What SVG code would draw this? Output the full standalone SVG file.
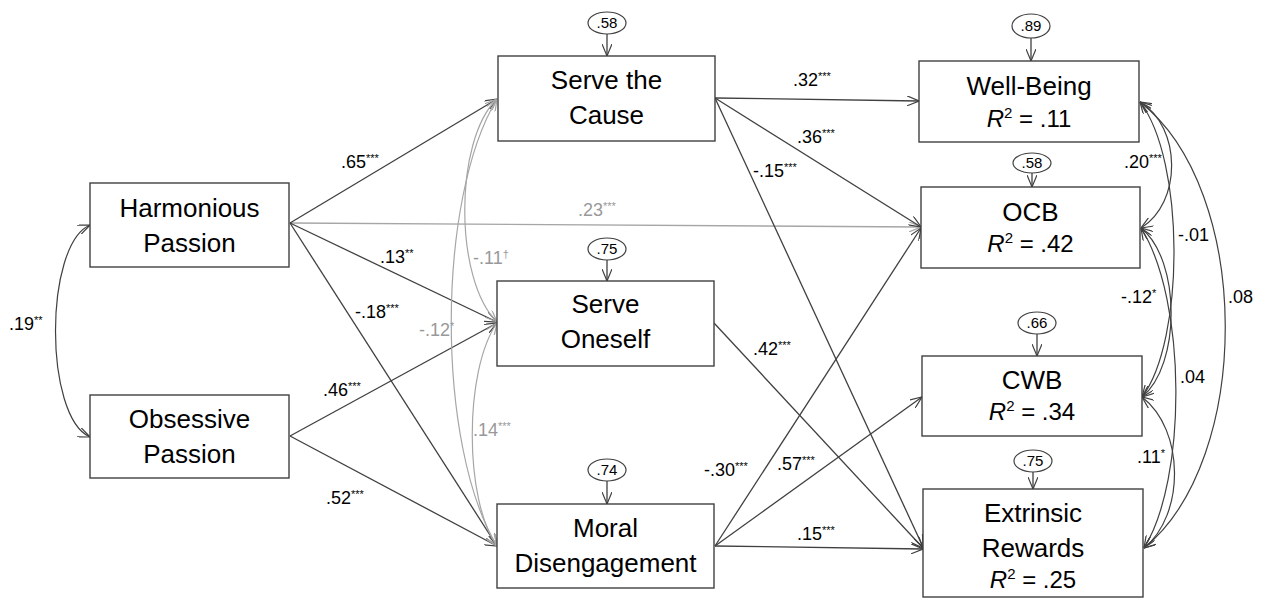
<svg xmlns="http://www.w3.org/2000/svg" width="1265" height="609" viewBox="0 0 1265 609">
<style>
.box{fill:#fff;stroke:#404040;stroke-width:1.4}
.nt{font-family:"Liberation Sans",Arial,sans-serif;font-size:26px;fill:#000;text-anchor:middle}
.r2{font-family:"Liberation Sans",Arial,sans-serif;font-size:24px;fill:#000;text-anchor:middle}
.err{fill:#fff;stroke:#404040;stroke-width:1.2}
.et{font-family:"Liberation Sans",Arial,sans-serif;font-size:15px;fill:#000;text-anchor:middle}
.dk{fill:none;stroke:#404040;stroke-width:1.3;marker-end:url(#ad)}
.gy{fill:none;stroke:#a6a6a6;stroke-width:1.3;marker-end:url(#ag)}
.dkc{fill:none;stroke:#404040;stroke-width:1.2;marker-start:url(#ad);marker-end:url(#ad)}
.gyc{fill:none;stroke:#a6a6a6;stroke-width:1.2;marker-start:url(#ag);marker-end:url(#ag)}
.lb{font-family:"Liberation Sans",Arial,sans-serif;font-size:18px;fill:#000}
.lg{font-family:"Liberation Sans",Arial,sans-serif;font-size:18px;fill:#999}
.sp{font-size:11px}
</style>
<defs>
<marker id="ad" viewBox="0 0 12 10" refX="12" refY="5" markerWidth="12" markerHeight="10" markerUnits="userSpaceOnUse" orient="auto-start-reverse"><path d="M0,0 L12,5 L0,10" fill="none" stroke="#404040" stroke-width="1.2"/></marker>
<marker id="ag" viewBox="0 0 12 10" refX="12" refY="5" markerWidth="12" markerHeight="10" markerUnits="userSpaceOnUse" orient="auto-start-reverse"><path d="M0,0 L12,5 L0,10" fill="none" stroke="#a6a6a6" stroke-width="1.2"/></marker>
</defs>

<g id="connectors">
<path class="gy" d="M290,223 L921,227"/>
<path class="dk" d="M290,223 L497,99"/>
<path class="dk" d="M290,223 L497,322"/>
<path class="dk" d="M290,223 L497,546"/>
<path class="dk" d="M290,436 L497,323"/>
<path class="dk" d="M290,436 L497,546"/>
<path class="dk" d="M715,98 L919,101"/>
<path class="dk" d="M715,98 L921,227"/>
<path class="dk" d="M715,98 L923,547"/>
<path class="dk" d="M714,323 L923,548"/>
<path class="dk" d="M715,546 L921,228"/>
<path class="dk" d="M715,546 L922,397"/>
<path class="dk" d="M715,546 L923,549"/>
<path class="dkc" d="M90,225 C44,245 44,417 90,437"/>
<path class="gyc" d="M497,99 C454,140 454,280 497,322"/>
<path class="gyc" d="M497,323 C464,370 464,500 497,546"/>
<path class="gyc" d="M497,99 C436,200 436,445 497,546"/>
<path class="dkc" d="M1140,102 C1182,127 1182,203 1141,228"/>
<path class="dkc" d="M1140,102 C1185,160 1185,340 1142,397"/>
<path class="dkc" d="M1140,102 C1253,190 1253,460 1144,548"/>
<path class="dkc" d="M1141,228 C1181,260 1181,365 1142,397"/>
<path class="dkc" d="M1141,228 C1187,300 1187,480 1144,548"/>
<path class="dkc" d="M1142,397 C1185,430 1185,515 1144,548"/>
<path class="dk" d="M607,34 L607,56"/>
<path class="dk" d="M607,260 L607,281"/>
<path class="dk" d="M607,481 L607,504"/>
<path class="dk" d="M1031,38 L1031,61"/>
<path class="dk" d="M1032,173 L1032,187"/>
<path class="dk" d="M1037,334 L1037,356"/>
<path class="dk" d="M1033,472 L1033,489"/>
</g>

<g id="labels">
<text class="lb" x="9" y="330">.19<tspan class="sp" dy="-6">**</tspan></text>
<text class="lb" x="341" y="168">.65<tspan class="sp" dy="-6">***</tspan></text>
<text class="lb" x="380" y="263">.13<tspan class="sp" dy="-6">**</tspan></text>
<text class="lb" x="355" y="318">-.18<tspan class="sp" dy="-6">***</tspan></text>
<text class="lb" x="323" y="396">.46<tspan class="sp" dy="-6">***</tspan></text>
<text class="lb" x="326" y="504">.52<tspan class="sp" dy="-6">***</tspan></text>
<text class="lg" x="578" y="216">.23<tspan class="sp" dy="-6">***</tspan></text>
<text class="lg" x="473" y="264">-.11<tspan class="sp" dy="-6">†</tspan></text>
<text class="lg" x="419" y="336">-.12<tspan class="sp" dy="-6">*</tspan></text>
<text class="lg" x="473" y="436">.14<tspan class="sp" dy="-6">***</tspan></text>
<text class="lb" x="793" y="86">.32<tspan class="sp" dy="-6">***</tspan></text>
<text class="lb" x="797" y="143">.36<tspan class="sp" dy="-6">***</tspan></text>
<text class="lb" x="753" y="177">-.15<tspan class="sp" dy="-6">***</tspan></text>
<text class="lb" x="753" y="355">.42<tspan class="sp" dy="-6">***</tspan></text>
<text class="lb" x="704" y="476">-.30<tspan class="sp" dy="-6">***</tspan></text>
<text class="lb" x="777" y="470">.57<tspan class="sp" dy="-6">***</tspan></text>
<text class="lb" x="797" y="540">.15<tspan class="sp" dy="-6">***</tspan></text>
<text class="lb" x="1124" y="168">.20<tspan class="sp" dy="-6">***</tspan></text>
<text class="lb" x="1178" y="241">-.01</text>
<text class="lb" x="1228" y="303">.08</text>
<text class="lb" x="1121" y="303">-.12<tspan class="sp" dy="-6">*</tspan></text>
<text class="lb" x="1180" y="383">.04</text>
<text class="lb" x="1137" y="463">.11<tspan class="sp" dy="-6">*</tspan></text>
</g>

<g id="hp"><rect class="box" x="90" y="183" width="199" height="84"/><text class="nt" x="189.5" y="217">Harmonious</text><text class="nt" x="189.5" y="252">Passion</text></g>
<g id="op"><rect class="box" x="90" y="395" width="199" height="83"/><text class="nt" x="189.5" y="428">Obsessive</text><text class="nt" x="189.5" y="463">Passion</text></g>
<g id="stc"><rect class="box" x="498" y="56" width="217" height="85"/><text class="nt" x="606.5" y="89">Serve the</text><text class="nt" x="606.5" y="124">Cause</text></g>
<g id="stc-e"><ellipse class="err" cx="607" cy="23" rx="19" ry="11"/><text class="et" x="607" y="28">.58</text></g>
<g id="so"><rect class="box" x="497" y="281" width="217" height="85"/><text class="nt" x="605.5" y="313">Serve</text><text class="nt" x="605.5" y="348">Oneself</text></g>
<g id="so-e"><ellipse class="err" cx="607" cy="249" rx="19" ry="11"/><text class="et" x="607" y="254">.75</text></g>
<g id="md"><rect class="box" x="497" y="504" width="217" height="84"/><text class="nt" x="605.5" y="537">Moral</text><text class="nt" x="605.5" y="572">Disengagement</text></g>
<g id="md-e"><ellipse class="err" cx="607" cy="470" rx="19" ry="11"/><text class="et" x="607" y="475">.74</text></g>
<g id="wb"><rect class="box" x="919" y="61" width="220" height="81"/><text class="nt" x="1029" y="95">Well-Being</text><text class="r2" x="1029" y="127"><tspan font-style="italic">R</tspan><tspan font-size="15" dy="-9">2</tspan><tspan dy="9"> = .11</tspan></text></g>
<g id="wb-e"><ellipse class="err" cx="1031" cy="26" rx="19" ry="12"/><text class="et" x="1031" y="31">.89</text></g>
<g id="ocb"><rect class="box" x="921" y="187" width="219" height="81"/><text class="nt" x="1030.5" y="221">OCB</text><text class="r2" x="1030.5" y="252"><tspan font-style="italic">R</tspan><tspan font-size="15" dy="-9">2</tspan><tspan dy="9"> = .42</tspan></text></g>
<g id="ocb-e"><ellipse class="err" cx="1032" cy="163" rx="19" ry="10"/><text class="et" x="1032" y="168">.58</text></g>
<g id="cwb"><rect class="box" x="922" y="356" width="220" height="80"/><text class="nt" x="1032" y="389">CWB</text><text class="r2" x="1032" y="420"><tspan font-style="italic">R</tspan><tspan font-size="15" dy="-9">2</tspan><tspan dy="9"> = .34</tspan></text></g>
<g id="cwb-e"><ellipse class="err" cx="1037" cy="323" rx="19" ry="11"/><text class="et" x="1037" y="328">.66</text></g>
<g id="er"><rect class="box" x="923" y="489" width="220" height="108"/><text class="nt" x="1033" y="522">Extrinsic</text><text class="nt" x="1033" y="557">Rewards</text><text class="r2" x="1033" y="588"><tspan font-style="italic">R</tspan><tspan font-size="15" dy="-9">2</tspan><tspan dy="9"> = .25</tspan></text></g>
<g id="er-e"><ellipse class="err" cx="1033" cy="461" rx="19" ry="11"/><text class="et" x="1033" y="466">.75</text></g>
</svg>
